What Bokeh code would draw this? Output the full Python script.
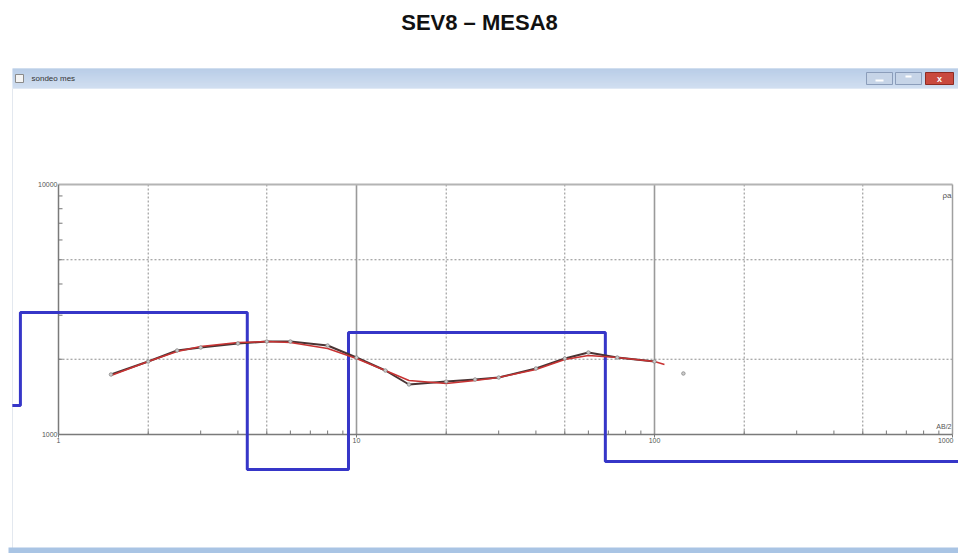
from bokeh.plotting import figure
from bokeh.models import Label
from bokeh.embed import file_html
from bokeh.resources import INLINE

# ---------------- data ----------------
chart_title = "SEV8 – MESA8"
window_title = "sondeo mes"
x_axis_label = "AB/2"
y_axis_label = "ρa"

x_tick_values = [1, 10, 100, 1000]
x_tick_labels = ["1", "10", "100", "1000"]
y_tick_values = [1000, 10000]
y_tick_labels = ["1000", "10000"]

grid_x_solid = [10, 100]
grid_x_dotted = [2, 5, 20, 50, 200, 500]
grid_y_dotted = [2000, 5000]

# observed apparent resistivity (field points)
ab2_obs = [1.5, 2, 2.5, 3, 4, 5, 6, 8, 10, 12.5, 15, 20, 25, 30, 40, 50, 60, 75, 100, 125]
rho_obs = [1738, 1959, 2168, 2228, 2312, 2355, 2355, 2270, 2032, 1803,
           1585, 1629, 1660, 1690, 1837, 2014, 2128, 2032, 1959, 1754]

# calculated curve
ab2_calc = [1.5, 2, 2.5, 3, 4, 5, 6, 8, 10, 12.5, 15, 20, 25, 30, 40, 50, 60, 75, 100, 108]
rho_calc = [1722, 1959, 2148, 2249, 2333, 2355, 2333, 2208, 2014, 1803,
            1644, 1600, 1644, 1690, 1820, 1995, 2070, 2032, 1959, 1905]

# layered model (step): layer boundaries and resistivities
model_ab2 = [0.70, 0.745, 4.30, 9.40, 68.4, 1500]
model_rho = [1306, 3076, 724, 2559, 780, 780]

# ---------------- layout helpers (page pixels -> data) ----------------
W, H = 958, 553
PX0, PY0 = 0, 0           # page offset of canvas
X1_PX, DX = 58.0, 298.0   # page x of AB/2=1, pixels per decade
Y4_PX, DY = 184.0, 250.0  # page y of rho=10000, pixels per decade


def X(px):
    return 10 ** ((px - X1_PX) / DX)


def Y(py):
    return 10 ** (4 - (py - Y4_PX) / DY)


p = figure(width=W, height=H, output_backend="svg", toolbar_location=None,
           x_axis_type="log", y_axis_type="log",
           x_range=(X(PX0), X(PX0 + W)), y_range=(Y(PY0 + H), Y(PY0)),
           x_axis_location=None, y_axis_location=None,
           min_border=0, min_border_left=0, min_border_right=0,
           min_border_top=0, min_border_bottom=0)
p.grid.visible = False
p.outline_line_color = None
p.background_fill_color = "white"
p.border_fill_color = "white"

# ---------------- window chrome ----------------
top_c = (0xA2, 0xBD, 0xE0)
bot_c = (0xC2, 0xD4, 0xEC)
n = 20
for i in range(n):
    t = i / (n - 1)
    c = tuple(int(top_c[k] + (bot_c[k] - top_c[k]) * t) for k in range(3))
    p.quad(left=X(12), right=X(960), top=Y(68 + i), bottom=Y(69 + i),
           fill_color="#%02x%02x%02x" % c, line_color=None)
# window borders
p.segment(x0=[X(12)], y0=[Y(88)], x1=[X(12)], y1=[Y(548)], line_color="#e3e8ef", line_width=1)
# icon
p.quad(left=X(15), right=X(23), top=Y(74), bottom=Y(82), fill_color="#f4f4f4",
       line_color="#8a8a8a", line_width=1)
p.add_layout(Label(x=X(31), y=Y(78), text=window_title, text_font="Liberation Sans",
                   text_font_size="8px", text_color="#333333", text_baseline="middle"))
# buttons
p.quad(left=[X(866), X(895)], right=[X(892), X(921)], top=[Y(72), Y(72)], bottom=[Y(84), Y(84)],
       fill_color="#c6d4e7", line_color="#8b9dba", line_width=1)
p.quad(left=X(925), right=X(953), top=Y(72), bottom=Y(84), fill_color="#c9493e",
       line_color="#8d2b22", line_width=1)
p.segment(x0=[X(875), X(905)], y0=[Y(80), Y(76)], x1=[X(883), X(911)], y1=[Y(80), Y(76)],
          line_color="#ffffff", line_width=2)
p.add_layout(Label(x=X(939), y=Y(78), text="x", text_font="Liberation Sans", text_font_style="bold",
                   text_font_size="9px", text_color="white", text_align="center", text_baseline="middle"))
# bottom bar
p.quad(left=X(8), right=X(960), top=Y(547), bottom=Y(554), fill_color="#a9c4e4", line_color=None)

# chart title
p.add_layout(Label(x=X(479), y=Y(22), text=chart_title, text_font="Liberation Sans",
                   text_font_style="bold", text_font_size="22px", text_color="#111111",
                   text_align="center", text_baseline="middle"))

# ---------------- inner plot: grid ----------------
xmin, xmax = x_tick_values[0], x_tick_values[-1]
ymin, ymax = y_tick_values[0], y_tick_values[-1]

p.segment(x0=grid_x_dotted, y0=[ymin] * len(grid_x_dotted), x1=grid_x_dotted,
          y1=[ymax] * len(grid_x_dotted), line_color="#8c8c8c", line_width=1, line_dash="2 2")
p.segment(x0=[xmin] * len(grid_y_dotted), y0=grid_y_dotted, x1=[xmax] * len(grid_y_dotted),
          y1=grid_y_dotted, line_color="#8c8c8c", line_width=1, line_dash="2 2")
p.segment(x0=grid_x_solid, y0=[ymin] * len(grid_x_solid), x1=grid_x_solid,
          y1=[ymax] * len(grid_x_solid), line_color="#9a9a9a", line_width=1.6)

# box
p.segment(x0=[xmin], y0=[ymax], x1=[xmax], y1=[ymax], line_color="#b4b4b4", line_width=2)
p.segment(x0=[xmax], y0=[ymin], x1=[xmax], y1=[ymax], line_color="#a0a0a0", line_width=1.5)
p.segment(x0=[xmin], y0=[ymin], x1=[xmax], y1=[ymin], line_color="#7a7a7a", line_width=1.5)
p.segment(x0=[xmin], y0=[ymin], x1=[xmin], y1=[ymax], line_color="#7a7a7a", line_width=1.5)

# minor ticks
mx = [m * d for d in [1, 10, 100] for m in range(2, 10)]
p.segment(x0=mx, y0=[ymin] * len(mx), x1=mx, y1=[Y(434 - 4)] * len(mx),
          line_color="#777777", line_width=1)
p.segment(x0=x_tick_values, y0=[ymin] * 4, x1=x_tick_values, y1=[Y(434 + 3)] * 4,
          line_color="#777777", line_width=1)
my = [m * 1000 for m in range(2, 10)]
p.segment(x0=[xmin] * len(my), y0=my, x1=[X(X1_PX + 4)] * len(my), y1=my,
          line_color="#777777", line_width=1)

# tick labels
for v, t in zip(y_tick_values, y_tick_labels):
    p.add_layout(Label(x=X(X1_PX - 1), y=v, text=t, text_font="Liberation Sans",
                       text_font_size="7px", text_color="#555555", text_align="right",
                       text_baseline="middle"))
for v, t in zip(x_tick_values, x_tick_labels):
    al = "right" if v == xmax else "center"
    xx = X(953) if v == xmax else v
    p.add_layout(Label(x=xx, y=Y(437), text=t, text_font="Liberation Sans",
                       text_font_size="7px", text_color="#555555", text_align=al,
                       text_baseline="top"))
p.add_layout(Label(x=X(951), y=Y(426), text=x_axis_label, text_font="Liberation Sans",
                   text_font_size="7px", text_color="#555555", text_align="right",
                   text_baseline="middle"))
p.add_layout(Label(x=X(951), y=Y(195), text=y_axis_label, text_font="Liberation Sans",
                   text_font_size="8px", text_color="#555555", text_align="right",
                   text_baseline="middle"))

# ---------------- data marks ----------------
p.step(model_ab2, model_rho, mode="after", line_color="#3636c8", line_width=3)
p.line(ab2_obs[:-1], rho_obs[:-1], line_color="#4a3434", line_width=2.0)
p.line(ab2_calc, rho_calc, line_color="#c83232", line_width=1.5)
p.scatter(ab2_obs, rho_obs, marker="circle", size=3.5, fill_color="#cccccc",
          line_color="#888888", line_width=0.8)

open("out.html", "w").write(file_html(p, INLINE, title=chart_title))
